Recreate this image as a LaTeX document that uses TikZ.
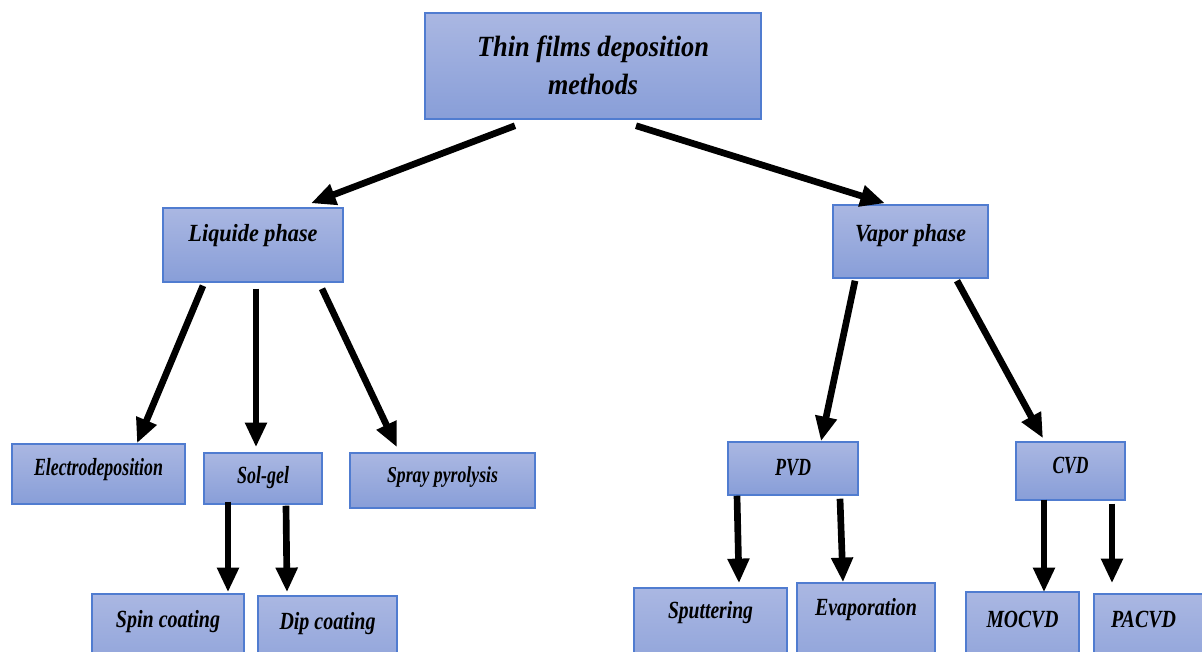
\documentclass[tikz,border=0pt]{standalone}
\usepackage{fontspec}
\setmainfont{Liberation Serif}
\usepackage{graphicx}
\usetikzlibrary{arrows.meta,calc}
\definecolor{boxtop}{RGB}{170,183,226}
\definecolor{boxbot}{RGB}{136,158,216}
\definecolor{boxline}{RGB}{80,124,208}
\newcommand{\boxtext}[2]{\resizebox{#1}{\height}{#2}}
\tikzset{
  stage/.style={draw=boxline, line width=1.1pt, top color=boxtop, bottom color=boxbot,
    inner sep=0pt, font=\fontsize{18.5}{22}\selectfont\bfseries\itshape},
  arr/.style={draw=black, line width=5pt, -{Triangle[length=18.5pt,width=15.5pt]}},
}
\begin{document}
\begin{tikzpicture}[x=0.75pt,y=-0.75pt]
\clip (0,0) rectangle (1202,652);
\fill[white] (0,0) rectangle (1202,652);

% boxes
\node[stage, minimum width=252pt, minimum height=79.5pt, text height=43.5pt, text depth=0pt,
  font=\fontsize{22}{28.5}\selectfont\bfseries\itshape] (top) at (593,66)
  {\begin{tabular}[b]{@{}c@{}}\boxtext{174pt}{Thin films deposition}\\ \boxtext{67.5pt}{methods}\end{tabular}};

\node[stage, minimum width=135pt, minimum height=55.5pt, text height=0pt, text depth=4.5pt] (liq) at (253,245) {\boxtext{96.75pt}{Liquide phase}};
\node[stage, minimum width=116.25pt, minimum height=54.75pt, text height=0.75pt, text depth=0pt] (vap) at (910.5,241.5) {\boxtext{83.25pt}{Vapor phase}};

\node[stage, minimum width=129.75pt, minimum height=45pt, text height=1.5pt, text depth=0pt] (ele) at (98.5,474) {\boxtext{96.75pt}{Electrodeposition}};
\node[stage, minimum width=88.5pt, minimum height=38.25pt, text height=6.75pt, text depth=0pt] (sol) at (263,478.5) {\boxtext{39pt}{Sol-gel}};
\node[stage, minimum width=138.75pt, minimum height=41.25pt, text height=2.25pt, text depth=0pt,
  font=\fontsize{17}{20}\selectfont\bfseries\itshape] (spr) at (442.5,480.5) {\boxtext{83.25pt}{Spray pyrolysis}};

\node[stage, minimum width=114pt, minimum height=72pt, text height=0pt, text depth=22.5pt] (spin) at (168,642) {\boxtext{78pt}{Spin coating}};
\node[stage, minimum width=104.25pt, minimum height=70.5pt, text height=0pt, text depth=21pt] (dip) at (327.5,643) {\boxtext{72pt}{Dip coating}};

\node[stage, minimum width=97.5pt, minimum height=39.75pt, text height=9.75pt, text depth=0pt] (pvd) at (793,468.5) {\boxtext{27pt}{PVD}};
\node[stage, minimum width=81.75pt, minimum height=43.5pt, text height=3pt, text depth=0pt] (cvd) at (1070.5,471) {\boxtext{27pt}{CVD}};

\node[stage, minimum width=114.75pt, minimum height=76.5pt, text height=0pt, text depth=31.5pt] (sput) at (710.5,639) {\boxtext{63.75pt}{Sputtering}};
\node[stage, minimum width=103.5pt, minimum height=80.25pt, text height=0pt, text depth=32.25pt] (evap) at (866,636.5) {\boxtext{76.5pt}{Evaporation}};
\node[stage, minimum width=84.75pt, minimum height=73.5pt, text height=0pt, text depth=21pt] (moc) at (1022.5,641) {\boxtext{54pt}{MOCVD}};
\node[stage, minimum width=90.75pt, minimum height=72pt, text height=0pt, text depth=22.5pt] (pac) at (1154.5,642) {\boxtext{48.75pt}{PACVD}\kern16.5pt};

% connectors
\draw[arr] ($(top.south)+(-78,6)$) -- ($(liq.north)+(58,-4)$);
\draw[arr] ($(top.south)+(43,6)$) -- ($(vap.north)+(-25.5,-1)$);
\draw[arr] ($(liq.south)+(-50,3)$) -- ($(ele.north)+(38.5,0)$);
\draw[arr] ($(liq.south)+(3,6)$) -- ($(sol.north)+(-7,-5)$);
\draw[arr] ($(liq.south)+(69,6)$) -- ($(spr.north)+(-45.5,-5)$);
\draw[arr] ($(sol.south)+(-35,-3)$) -- ($(spin.north)+(60,-1)$);
\draw[arr] ($(sol.south)+(23,1)$) -- ($(dip.north)+(-40.5,-3)$);
\draw[arr] ($(vap.south)+(-55.5,2)$) -- ($(pvd.north)+(28,0)$);
\draw[arr] ($(vap.south)+(46.5,2)$) -- ($(cvd.north)+(-27.5,-3)$);
\draw[arr] ($(pvd.south)+(-56,0)$) -- ($(sput.north)+(28.5,-4)$);
\draw[arr] ($(pvd.south)+(47,3)$) -- ($(evap.north)+(-23,0)$);
\draw[arr] ($(cvd.south)+(-26.5,-1)$) -- ($(moc.north)+(21.5,1)$);
\draw[arr] ($(cvd.south)+(41.5,3)$) -- ($(pac.north)+(-42.5,-10)$);
\end{tikzpicture}
\end{document}
